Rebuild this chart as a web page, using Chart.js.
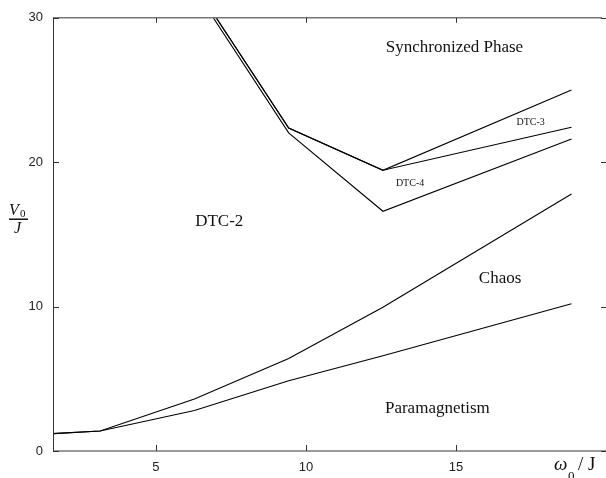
<!DOCTYPE html>
<html>
<head>
<meta charset="utf-8">
<script src="https://cdn.jsdelivr.net/npm/chart.js@4/dist/chart.umd.min.js"></script>
<style>
html,body{margin:0;padding:0;background:#fff;}
#wrap{width:606px;height:478px;position:relative;}
</style>
</head>
<body>
<div id="wrap"><canvas id="c" width="606" height="478"></canvas></div>
<script>
// omega_0 / J sample points (multiples of pi)
const omega = [1.571, 3.142, 6.283, 9.425, 12.566, 18.850];
const omegaUpper = [6.283, 9.425, 12.566, 18.850];

// boundary lines V0/J
const paraBoundary  = [1.2, 1.38, 2.8, 4.86, 6.6, 10.2];
const chaosBoundary = [1.2, 1.38, 3.6, 6.4, 9.95, 17.8];
const dtc3Upper     = [32.3, 22.37, 19.44, 25.0];
const dtc3Lower     = [32.3, 22.37, 19.44, 22.42];
const dtc4Lower     = [32.0, 22.03, 16.6, 21.6];

const xTicks = [5, 10, 15];
const yTicks = [0, 10, 20, 30];

const regionNames = ['Synchronized Phase', 'DTC-2', 'DTC-3', 'DTC-4', 'Chaos', 'Paramagnetism'];
const regionX = [14.95, 7.11, 17.49, 13.47, 16.47, 14.38];
const regionY = [27.97, 15.9, 22.76, 18.52, 11.93, 2.95];
const regionSize = [17, 17, 10, 10, 17, 17];

function pts(xs, ys){ return xs.map((x,i)=>({x:x, y:ys[i]})); }

const lineStyle = {borderColor:'#000', borderWidth:1.1, pointRadius:0, showLine:true, fill:false, tension:0};

const deco = {
  id:'deco',
  afterDatasetsDraw(chart){
    const ctx = chart.ctx, a = chart.chartArea;
    const xs = chart.scales.x, ys = chart.scales.y;
    ctx.save();
    // axis lines
    ctx.strokeStyle = '#777'; ctx.lineWidth = 1.6;
    ctx.beginPath(); ctx.moveTo(a.left, a.bottom); ctx.lineTo(a.right, a.bottom); ctx.stroke();
    ctx.beginPath(); ctx.moveTo(a.left, a.top); ctx.lineTo(a.right-4, a.top); ctx.stroke();
    ctx.strokeStyle = '#333'; ctx.lineWidth = 1;
    ctx.beginPath(); ctx.moveTo(a.left+0.5, a.top); ctx.lineTo(a.left+0.5, a.bottom); ctx.stroke();
    // ticks
    ctx.strokeStyle = '#333'; ctx.lineWidth = 1;
    xTicks.forEach(v=>{
      const px = Math.round(xs.getPixelForValue(v))+0.5;
      ctx.beginPath(); ctx.moveTo(px, a.bottom); ctx.lineTo(px, a.bottom-6); ctx.stroke();
      ctx.beginPath(); ctx.moveTo(px, a.top); ctx.lineTo(px, a.top+5); ctx.stroke();
    });
    yTicks.forEach(v=>{
      const py = Math.round(ys.getPixelForValue(v))+0.5;
      ctx.beginPath(); ctx.moveTo(a.left, py); ctx.lineTo(a.left+6, py); ctx.stroke();
      ctx.beginPath(); ctx.moveTo(a.right, py); ctx.lineTo(a.right-5, py); ctx.stroke();
    });
    // region labels
    ctx.fillStyle = '#111';
    ctx.textAlign = 'center'; ctx.textBaseline = 'middle';
    regionNames.forEach((t,i)=>{
      ctx.font = regionSize[i] + 'px "Liberation Serif", "Times New Roman", serif';
      ctx.fillText(t, xs.getPixelForValue(regionX[i]), ys.getPixelForValue(regionY[i]));
    });
    // y title: V0 / J fraction
    ctx.textAlign = 'left'; ctx.textBaseline = 'alphabetic';
    ctx.font = 'italic 16px "Liberation Serif", serif';
    ctx.fillText('V', 9, 215);
    ctx.font = '11px "Liberation Serif", serif';
    ctx.fillText('0', 20, 217);
    ctx.fillStyle = '#000';
    ctx.fillRect(9, 218.5, 19, 1.4);
    ctx.fillStyle = '#111';
    ctx.font = 'italic 16px "Liberation Serif", serif';
    ctx.fillText('J', 14, 233);
    // x title
    ctx.font = 'italic 19px "Liberation Serif", serif';
    ctx.fillText('\u03C9', 554, 470);
    ctx.font = '13px "Liberation Serif", serif';
    ctx.fillText('0', 568, 480);
    ctx.font = '19px "Liberation Serif", serif';
    ctx.fillText('/ J', 578, 470);
    ctx.restore();
  }
};

new Chart(document.getElementById('c'), {
  type:'scatter',
  data:{
    datasets:[
      Object.assign({data:pts(omega, paraBoundary)}, lineStyle),
      Object.assign({data:pts(omega, chaosBoundary)}, lineStyle),
      Object.assign({data:pts(omegaUpper, dtc3Upper)}, lineStyle),
      Object.assign({data:pts(omegaUpper, dtc3Lower)}, lineStyle),
      Object.assign({data:pts(omegaUpper, dtc4Lower)}, lineStyle)
    ]
  },
  options:{
    responsive:false, animation:false,
    layout:{padding:{top:14, right:0, left:0, bottom:0}},
    plugins:{legend:{display:false}, tooltip:{enabled:false}},
    scales:{
      x:{
        type:'linear', min:1.5708, max:20,
        afterBuildTicks(s){ s.ticks = xTicks.map(v=>({value:v})); },
        afterFit(s){ s.height = 27; },
        grid:{display:false, drawTicks:false}, border:{display:false},
        ticks:{color:'#222', padding:9, maxRotation:0, font:{family:'"Liberation Sans", Arial, sans-serif', size:13}}
      },
      y:{
        type:'linear', min:0, max:30,
        afterBuildTicks(s){ s.ticks = yTicks.map(v=>({value:v})); },
        afterFit(s){ s.width = 53; },
        grid:{display:false, drawTicks:false}, border:{display:false},
        ticks:{color:'#222', padding:10, font:{family:'"Liberation Sans", Arial, sans-serif', size:13}}
      }
    }
  },
  plugins:[deco]
});
</script>
</body>
</html>
